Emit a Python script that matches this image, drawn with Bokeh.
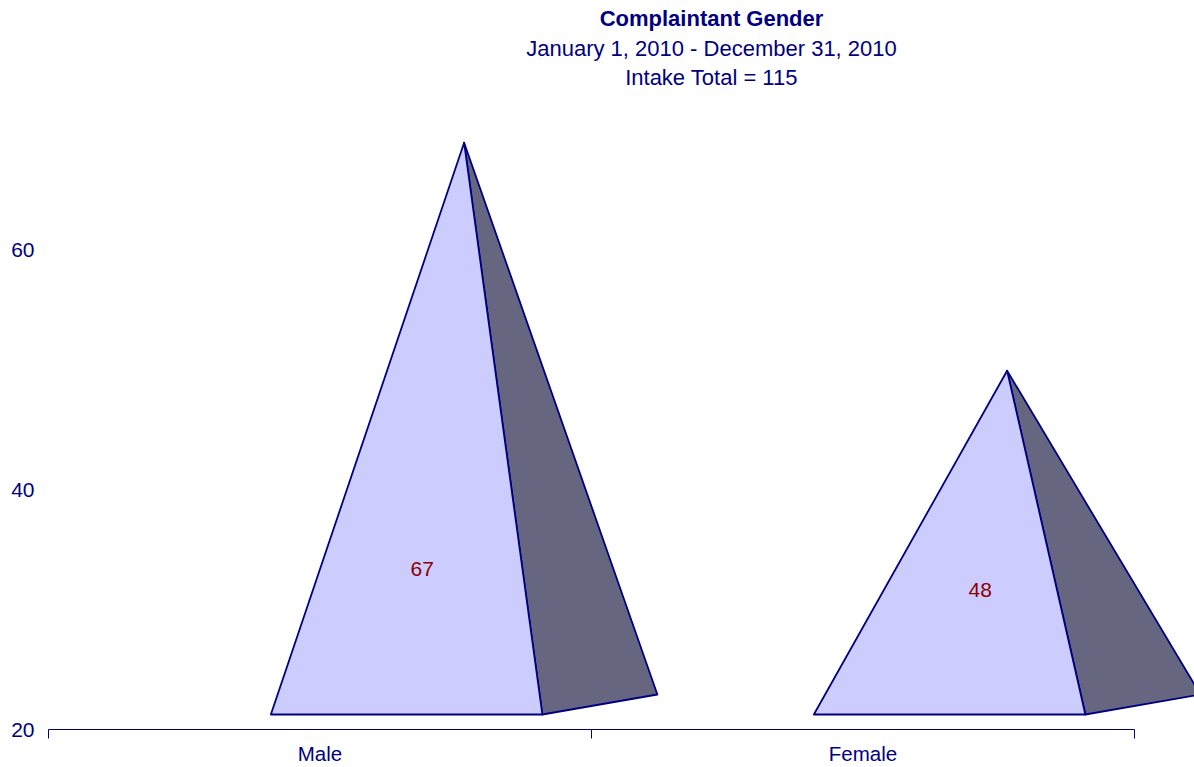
from bokeh.plotting import figure
from bokeh.models import FixedTicker, Range1d, ColumnDataSource
from bokeh.core.properties import value
from bokeh.embed import file_html
from bokeh.resources import INLINE

# ---- data -------------------------------------------------------------
categories = ["Male", "Female"]
counts = [67, 48]
y_ticks = [20, 40, 60]
chart_title = "Complaintant Gender"
period = "January 1, 2010 - December 31, 2010"

# ---- style ------------------------------------------------------------
NAVY = "#000080"
FRONT = "#CCCCFF"
SIDE = "#666680"
LABEL_RED = "#8B0000"
FONT = "Liberation Sans"
TITLE_SIZE = "22px"
TICK_SIZE = "20.5px"
VALUE_SIZE = "21px"

# pixel scale of the plotting frame
PX_X = 543.0   # pixels per category
PX_Y = 12.0    # pixels per value unit
FRAME_W, FRAME_H = 1146, 729
Y0 = y_ticks[0]

# oblique 3-D projection of the pyramids (axis units)
FLOOR_LIFT = 1.25   # front edge of the base sits above the axis line
SHIFT = 0.1595      # projection pushes each pyramid to the right
HALF_W = 0.25       # half width of the base
DEPTH_DX = 0.2118   # receding base edge, horizontal part
DEPTH_DY = 1.667    # receding base edge, vertical part
APEX_LIFT = 1.9     # apex sits over the centre of the base

xs_pos = [i + 1 for i in range(len(categories))]

p = figure(
    width=1194, height=767,
    x_range=Range1d(0.5, 0.5 + FRAME_W / PX_X),
    y_range=Range1d(Y0, Y0 + FRAME_H / PX_Y),
    output_backend="svg", toolbar_location=None,
    min_border_left=48, min_border_right=0,
    min_border_top=0, min_border_bottom=767 - FRAME_H,
)
p.outline_line_color = None
p.xgrid.visible = False
p.ygrid.visible = False
p.background_fill_color = "white"
p.border_fill_color = "white"

# ---- pyramids ---------------------------------------------------------
front_xs, front_ys, side_xs, side_ys = [], [], [], []
for cx, v in zip(xs_pos, counts):
    c = cx + SHIFT
    base = Y0 + FLOOR_LIFT
    fl, fr = c - HALF_W, c + HALF_W
    br, bb = fr + DEPTH_DX, base + DEPTH_DY
    ax, ay = c + DEPTH_DX / 2, v + APEX_LIFT
    front_xs.append([fl, fr, ax])
    front_ys.append([base, base, ay])
    side_xs.append([fr, br, ax])
    side_ys.append([base, bb, ay])

p.patches(side_xs, side_ys, fill_color=SIDE, line_color=NAVY,
          line_width=1.8, line_join="round")
p.patches(front_xs, front_ys, fill_color=FRONT, line_color=NAVY,
          line_width=1.8, line_join="round")

# value labels in the lower part of each front face
lab_src = ColumnDataSource(dict(
    x=[cx + SHIFT + 0.126 - 0.00145 * v for cx, v in zip(xs_pos, counts)],
    y=[27.2 + 0.0926 * v for v in counts],
    text=[str(v) for v in counts],
))
p.text("x", "y", text="text", source=lab_src, text_font=value(FONT),
       text_font_size=VALUE_SIZE, text_color=LABEL_RED,
       text_align="center", text_baseline="middle")

# ---- titles -----------------------------------------------------------
tx = 0.5 + (711 - 48) / PX_X
def ypx(py):
    return Y0 + (FRAME_H - py) / PX_Y

p.text(x=[tx], y=[ypx(18)], text=[chart_title], text_font=value(FONT),
       text_font_size=TITLE_SIZE, text_font_style="bold", text_color=NAVY,
       text_align="center", text_baseline="middle")
p.text(x=[tx, tx], y=[ypx(47.5), ypx(77)],
       text=[period, f"Intake Total = {sum(counts)}"],
       text_font=value(FONT), text_font_size=TITLE_SIZE, text_color=NAVY,
       text_align="center", text_baseline="middle")

# ---- axes -------------------------------------------------------------
ya = p.yaxis[0]
ya.ticker = FixedTicker(ticks=y_ticks)
ya.axis_line_color = None
ya.major_tick_line_color = None
ya.minor_tick_line_color = None
ya.major_tick_out = 0
ya.major_label_standoff = 14
ya.major_label_text_font = FONT
ya.major_label_text_font_size = "21px"
ya.major_label_text_color = NAVY

xa = p.xaxis[0]
xa.ticker = FixedTicker(ticks=xs_pos,
                        minor_ticks=[x - 0.5 for x in xs_pos] + [xs_pos[-1] + 0.5])
xa.major_label_overrides = {x: c for x, c in zip(xs_pos, categories)}
xa.bounds = (0.5, xs_pos[-1] + 0.5)
xa.axis_line_color = NAVY
xa.axis_line_width = 1
xa.major_tick_line_color = None
xa.major_tick_out = 0
xa.major_tick_in = 0
xa.minor_tick_line_color = NAVY
xa.minor_tick_in = 0
xa.minor_tick_out = 9
xa.major_label_standoff = 3
xa.major_label_text_font = FONT
xa.major_label_text_font_size = TICK_SIZE
xa.major_label_text_color = NAVY

open("out.html", "w").write(file_html(p, INLINE))
